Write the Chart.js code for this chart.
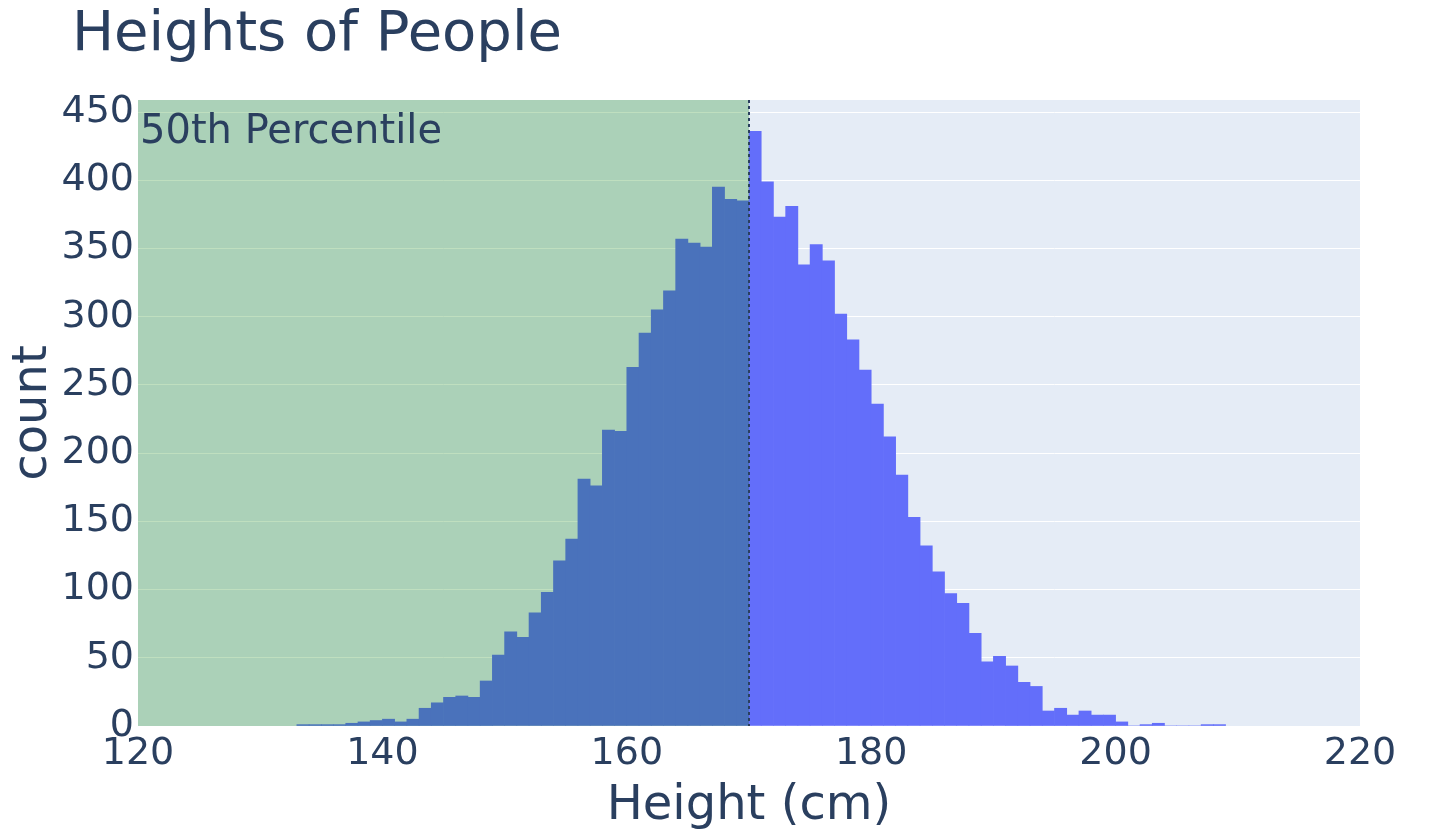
<!DOCTYPE html>
<html>
<head>
<meta charset="utf-8">
<script src="https://cdn.jsdelivr.net/npm/chart.js@4.4.1/dist/chart.umd.min.js"></script>
<style>
  html, body { margin: 0; padding: 0; background: #ffffff; }
  canvas { display: block; }
</style>
</head>
<body>
<canvas id="c" width="1440" height="836" style="width:1440px;height:836px"></canvas>
<script>
// ---- data ----
const binStarts = [133,134,135,136,137,138,139,140,141,142,143,144,145,146,147,148,149,150,151,152,
                   153,154,155,156,157,158,159,160,161,162,163,164,165,166,167,168,169,170,171,172,
                   173,174,175,176,177,178,179,180,181,182,183,184,185,186,187,188,189,190,191,192,
                   193,194,195,196,197,198,199,200,201,202,203,204,205,206,207,208];
const counts    = [1,1,1,1,2,3,4,5,3,5,13,17,21,22,21,33,52,69,65,83,
                   98,121,137,181,176,217,216,263,288,305,319,357,354,351,395,386,385,436,399,373,
                   381,338,353,341,302,283,261,236,212,184,153,132,113,97,90,68,47,51,44,32,
                   29,11,13,8,11,8,8,3,0,1,2,0,0,0,1,1];
const binWidth = 1;
const xTickValues = [120, 140, 160, 180, 200, 220];
const yTickValues = [0, 50, 100, 150, 200, 250, 300, 350, 400, 450];
const xRange = [120, 220];
const yRange = [0, 458.9];
const chartTitle = 'Heights of People';
const xAxisTitle = 'Height (cm)';
const yAxisTitle = 'count';
const percentileLabel = '50th Percentile';
const percentileValue = 170;
const shadeStart = 120;

// ---- styles ----
const TEXT = '#2a3f5f';
const FONT = '"DejaVu Sans", Verdana, sans-serif';

const points = binStarts.map((b, i) => ({ x: b + binWidth / 2, y: counts[i] }));

const bgPlugin = {
  id: 'plotBg',
  beforeDraw(chart) {
    const { ctx, chartArea: a } = chart;
    ctx.save();
    ctx.fillStyle = '#ffffff';
    ctx.fillRect(0, 0, chart.width, chart.height);
    ctx.fillStyle = '#E5ECF6';
    ctx.fillRect(a.left, a.top, a.right - a.left, a.bottom - a.top);
    ctx.restore();
  }
};

const overlayPlugin = {
  id: 'overlay',
  afterDatasetsDraw(chart) {
    const { ctx, chartArea: a, scales } = chart;
    const x0 = Math.max(scales.x.getPixelForValue(shadeStart), a.left);
    const x1 = scales.x.getPixelForValue(percentileValue);
    ctx.save();
    // shaded region
    ctx.fillStyle = 'rgba(0,128,0,0.25)';
    ctx.fillRect(x0, a.top, x1 - x0, a.bottom - a.top);
    // dotted percentile line
    ctx.strokeStyle = '#2a3f5f';
    ctx.lineWidth = 2;
    ctx.setLineDash([3, 3]);
    ctx.beginPath();
    ctx.moveTo(x1, a.top);
    ctx.lineTo(x1, a.bottom);
    ctx.stroke();
    ctx.setLineDash([]);
    // annotation
    ctx.fillStyle = TEXT;
    ctx.font = '40px ' + FONT;
    ctx.textAlign = 'left';
    ctx.textBaseline = 'alphabetic';
    ctx.fillText(percentileLabel, a.left + 2, a.top + 43);
    // title
    ctx.font = '56px ' + FONT;
    ctx.fillText(chartTitle, 72, 50);
    ctx.restore();
  }
};

new Chart(document.getElementById('c'), {
  type: 'bar',
  data: {
    datasets: [{
      data: points,
      backgroundColor: '#636EFA',
      borderWidth: 0,
      barPercentage: 1,
      categoryPercentage: 1,
      grouped: false
    }]
  },
  options: {
    responsive: false,
    devicePixelRatio: 1,
    animation: false,
    events: [],
    layout: { padding: { top: 100, left: 0, right: 80, bottom: 0 } },
    plugins: {
      legend: { display: false },
      tooltip: { enabled: false },
      title: { display: false }
    },
    scales: {
      x: {
        type: 'linear',
        offset: false,
        min: xRange[0],
        max: xRange[1],
        grid: { display: false, drawTicks: false },
        border: { display: false },
        afterBuildTicks(scale) { scale.ticks = xTickValues.map(v => ({ value: v })); },
        afterFit(scale) {
          scale.height = 110;
          scale.paddingLeft = 0; scale.paddingRight = 0;
          scale.paddingTop = 0; scale.paddingBottom = 0;
        },
        ticks: {
          color: TEXT,
          font: { family: FONT, size: 38 },
          padding: 5,
          maxRotation: 0,
          autoSkip: false
        },
        title: {
          display: true,
          text: xAxisTitle,
          color: TEXT,
          font: { family: FONT, size: 48 },
          padding: { top: 0, bottom: 1 }
        }
      },
      y: {
        type: 'linear',
        min: yRange[0],
        max: yRange[1],
        grid: { color: '#ffffff', lineWidth: 1, drawTicks: false },
        border: { display: false },
        afterBuildTicks(scale) { scale.ticks = yTickValues.map(v => ({ value: v })); },
        afterFit(scale) {
          scale.width = 138;
          scale.paddingLeft = 0; scale.paddingRight = 0;
          scale.paddingTop = 0; scale.paddingBottom = 0;
        },
        ticks: {
          color: TEXT,
          font: { family: FONT, size: 38 },
          padding: 4,
          autoSkip: false,
          includeBounds: false
        },
        title: {
          display: true,
          text: yAxisTitle,
          color: TEXT,
          font: { family: FONT, size: 48 },
          padding: { top: 4.6, bottom: 0 }
        }
      }
    }
  },
  plugins: [bgPlugin, overlayPlugin]
});
</script>
</body>
</html>
